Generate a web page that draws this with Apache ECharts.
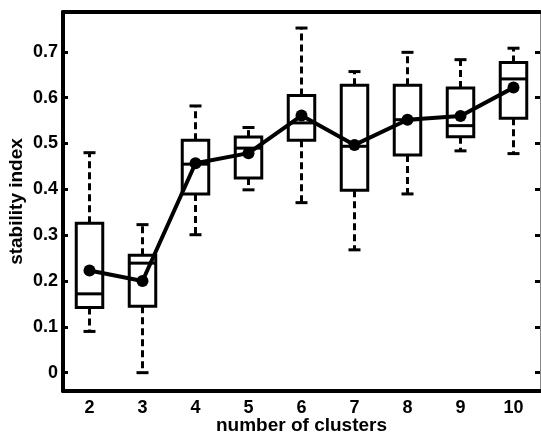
<!DOCTYPE html>
<html>
<head>
<meta charset="utf-8">
<script src="https://cdn.jsdelivr.net/npm/echarts@6/dist/echarts.min.js"></script>
<style>
  html, body { margin: 0; padding: 0; background: #fff; }
  #main { width: 541px; height: 434px; }
</style>
</head>
<body>
<div id="main"></div>
<script>
// number of clusters
const clusters = ['2', '3', '4', '5', '6', '7', '8', '9', '10']
// box stats
const whiskerLow = [0.090, 0.000, 0.301, 0.399, 0.371, 0.268, 0.390, 0.484, 0.478]
const boxLow = [0.142, 0.145, 0.390, 0.425, 0.507, 0.398, 0.475, 0.515, 0.555]
const medians = [0.172, 0.239, 0.455, 0.490, 0.545, 0.494, 0.552, 0.539, 0.641]
const boxHigh = [0.326, 0.256, 0.507, 0.514, 0.605, 0.627, 0.627, 0.621, 0.677]
const whiskerHigh = [0.480, 0.323, 0.582, 0.535, 0.752, 0.657, 0.699, 0.683, 0.708]
// mean stability index
const means = [0.223, 0.200, 0.457, 0.479, 0.561, 0.497, 0.552, 0.560, 0.622]
const yTicks = [0, 0.1, 0.2, 0.3, 0.4, 0.5, 0.6, 0.7]

const boxData = clusters.map((c, i) => [i, whiskerLow[i], boxLow[i], medians[i], boxHigh[i], whiskerHigh[i]])

let myChart = echarts.init(document.getElementById('main'))
const font = 'Liberation Sans, Arial, sans-serif'

function renderBox (params, api) {
  const x = api.value(0)
  const pMin = api.coord([x, api.value(1)])
  const pQ1 = api.coord([x, api.value(2)])
  const pMed = api.coord([x, api.value(3)])
  const pQ3 = api.coord([x, api.value(4)])
  const pMax = api.coord([x, api.value(5)])
  const bandW = api.size([1, 0])[0]
  const half = bandW * 0.25
  const cap = 6
  const cx = pMed[0]
  const solid = { stroke: '#000', lineWidth: 3, fill: null }
  const dashed = { stroke: '#000', lineWidth: 3, lineDash: [7, 4], fill: null }
  return {
    type: 'group',
    children: [
      { type: 'line', shape: { x1: cx, y1: pQ3[1], x2: cx, y2: pMax[1] }, style: dashed },
      { type: 'line', shape: { x1: cx, y1: pQ1[1], x2: cx, y2: pMin[1] }, style: dashed },
      { type: 'line', shape: { x1: cx - cap, y1: pMax[1], x2: cx + cap, y2: pMax[1] }, style: solid },
      { type: 'line', shape: { x1: cx - cap, y1: pMin[1], x2: cx + cap, y2: pMin[1] }, style: solid },
      { type: 'rect', shape: { x: cx - half, y: pQ3[1], width: half * 2, height: pQ1[1] - pQ3[1] }, style: { stroke: '#000', lineWidth: 3, fill: '#fff' } },
      { type: 'line', shape: { x1: cx - half, y1: pMed[1], x2: cx + half, y2: pMed[1] }, style: solid }
    ]
  }
}

let option = {
  animation: false,
  backgroundColor: '#fff',
  grid: { left: 63, right: 1, top: 12, bottom: 43, containLabel: false, outerBoundsMode: 'none' },
  xAxis: [{
    type: 'category',
    data: clusters,
    boundaryGap: true,
    name: 'number of clusters',
    nameLocation: 'middle',
    nameGap: 25,
    nameMoveOverlap: false,
    nameTextStyle: { fontFamily: font, fontWeight: 'bold', fontSize: 19, color: '#000' },
    axisLine: { onZero: false, lineStyle: { color: '#000', width: 4 } },
    axisTick: { inside: true, alignWithLabel: true, length: 5, lineStyle: { color: '#000', width: 3 } },
    axisLabel: { fontFamily: font, fontWeight: 'bold', fontSize: 18, color: '#000', margin: 8 },
    splitLine: { show: false }
  }, {
    type: 'category',
    data: clusters,
    position: 'top',
    boundaryGap: true,
    axisLine: { onZero: false, lineStyle: { color: '#000', width: 4 } },
    axisTick: { inside: true, alignWithLabel: true, length: 5, lineStyle: { color: '#000', width: 3 } },
    axisLabel: { show: false },
    splitLine: { show: false }
  }],
  yAxis: [{
    type: 'value',
    min: -0.04,
    max: 0.787,
    name: 'stability index',
    nameLocation: 'middle',
    nameGap: 37,
    nameMoveOverlap: false,
    nameTextStyle: { fontFamily: font, fontWeight: 'bold', fontSize: 19, color: '#000' },
    axisLine: { show: true, onZero: false, lineStyle: { color: '#000', width: 4 } },
    axisTick: { show: true, inside: true, length: 5, customValues: yTicks, lineStyle: { color: '#000', width: 3 } },
    axisLabel: { fontFamily: font, fontWeight: 'bold', fontSize: 18, color: '#000', margin: 5, customValues: yTicks },
    splitLine: { show: false }
  }, {
    type: 'value',
    min: -0.04,
    max: 0.787,
    position: 'right',
    axisLine: { show: true, onZero: false, lineStyle: { color: '#888', width: 1 } },
    axisTick: { show: true, inside: true, length: 5, customValues: yTicks, lineStyle: { color: '#000', width: 3 } },
    axisLabel: { show: false, customValues: yTicks },
    splitLine: { show: false }
  }],
  series: [{
    name: 'box',
    type: 'custom',
    renderItem: renderBox,
    encode: { x: 0, y: [1, 2, 3, 4, 5] },
    data: boxData,
    z: 2
  }, {
    name: 'mean',
    type: 'line',
    data: means,
    symbol: 'circle',
    symbolSize: 12,
    itemStyle: { color: '#000' },
    lineStyle: { color: '#000', width: 4 },
    z: 3
  }]
}
myChart.setOption(option)
</script>
</body>
</html>
